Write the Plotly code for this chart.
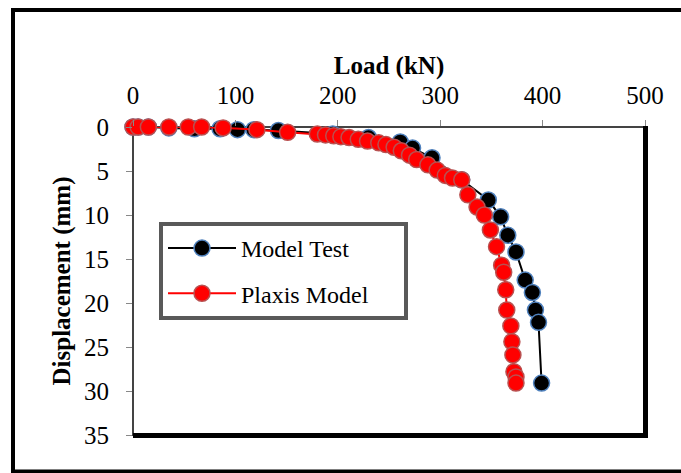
import plotly.graph_objects as go

# Model Test (load kN, displacement mm)
test_load = [0, 5, 15, 35, 60, 85, 102, 118, 142, 195, 230, 261, 273, 292, 321, 347, 359, 366, 374, 383, 390, 393, 396, 399]
test_disp = [0, 0, 0, 0.1, 0.2, 0.2, 0.3, 0.3, 0.4, 0.8, 1.2, 1.7, 2.4, 3.5, 6.0, 8.3, 10.2, 12.3, 14.2, 17.4, 18.8, 20.8, 22.2, 29.1]

# Plaxis Model
plaxis_load = [0, 5, 15, 35, 54, 67, 88, 121, 151, 180, 188, 196, 203, 211, 220, 229, 240, 247, 255, 262, 270, 277,
               288, 297, 305, 312, 321, 327, 336, 343, 349, 355, 360, 362, 364, 365, 369, 370, 371, 372, 374, 374]
plaxis_disp = [0, 0, 0, 0, 0, 0, 0.1, 0.3, 0.6, 0.8, 0.9, 1.0, 1.1, 1.2, 1.4, 1.6, 1.8, 2.0, 2.3, 2.7, 3.2, 3.7,
               4.3, 4.9, 5.5, 5.8, 6.0, 7.7, 9.1, 10.0, 11.7, 13.6, 15.7, 16.5, 18.5, 20.8, 22.6, 24.4, 25.9, 27.8, 28.4, 29.1]

x_ticks = [0, 100, 200, 300, 400, 500]
y_ticks = [0, 5, 10, 15, 20, 25, 30, 35]

SERIF = "Liberation Serif, Times New Roman, serif"
PAD = "\u00a0" * 5

fig = go.Figure()
fig.add_trace(go.Scatter(
    x=test_load, y=test_disp, name="Model Test" + PAD, mode="lines+markers",
    line=dict(color="black", width=2),
    marker=dict(size=16, color="black", line=dict(color="#4F81BD", width=1.5)),
    legendgroup="a", cliponaxis=False,
))
fig.add_trace(go.Scatter(
    x=plaxis_load, y=plaxis_disp, name="Plaxis Model" + PAD, mode="lines+markers",
    line=dict(color="#FF0000", width=2),
    marker=dict(size=16, color="#FF0000", line=dict(color="rgb(185,80,80)", width=1.5)),
    legendgroup="b", cliponaxis=False,
))

L, R, T, B = 133, 36, 127, 38
W, H = 681, 473
pw, ph = W - L - R, H - T - B

def px(x):
    return (x - L) / pw

def py(y):
    return (H - B - y) / ph

shapes = [
    # outer border
    dict(type="rect", xref="paper", yref="paper", x0=px(13), x1=px(700), y0=py(471.5), y1=py(10),
         line=dict(color="black", width=4), layer="below"),
    # plot frame
    dict(type="rect", xref="paper", yref="paper", x0=0, x1=1, y0=0, y1=1,
         line=dict(color="#444444", width=2), layer="below"),
    dict(type="line", xref="paper", yref="paper", x0=px(645.5), x1=px(645.5), y0=py(437.5), y1=py(126),
         line=dict(color="black", width=5), layer="below"),
    dict(type="line", xref="paper", yref="paper", x0=px(133), x1=px(648), y0=py(435.5), y1=py(435.5),
         line=dict(color="black", width=5), layer="below"),
]

fig.update_layout(
    width=W, height=H,
    margin=dict(l=L, r=R, t=T, b=B, pad=0),
    paper_bgcolor="white", plot_bgcolor="white",
    font=dict(family=SERIF, color="black", size=25),
    showlegend=True,
    legend=dict(
        x=px(159), y=py(222), xanchor="left", yanchor="top",
        bordercolor="#595959", borderwidth=4, bgcolor="white",
        font=dict(family=SERIF, size=24, color="black"),
        traceorder="grouped", tracegroupgap=11, itemwidth=68,
    ),
    shapes=shapes,
    xaxis=dict(
        side="top", range=[0, 500], tickvals=x_ticks, ticktext=[str(v) for v in x_ticks],
        showgrid=False, zeroline=False, showline=False,
        ticks="outside", ticklen=6, tickcolor="#888888", tickwidth=1,
        ticklabelstandoff=6,
        tickfont=dict(family=SERIF, size=25, color="black"),
        title=dict(text="<b>Load (kN)</b>", font=dict(family=SERIF, size=25, color="black"), standoff=0),
    ),
    yaxis=dict(
        range=[35, 0], tickvals=y_ticks, ticktext=[str(v) for v in y_ticks],
        showgrid=False, zeroline=False, showline=False,
        ticks="outside", ticklen=6, tickcolor="#888888", tickwidth=1,
        ticklabelstandoff=12,
        tickfont=dict(family=SERIF, size=25, color="black"),
        title=dict(text="<b>Displacement (mm)</b>", font=dict(family=SERIF, size=25, color="black"), standoff=6),
    ),
)

fig.write_html("out.html")
